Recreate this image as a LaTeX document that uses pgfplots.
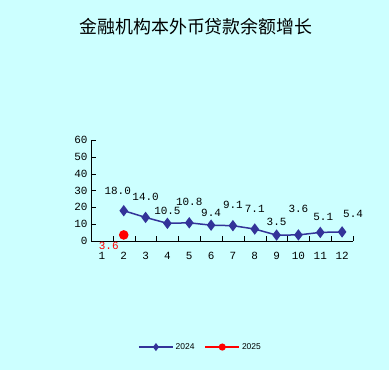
\documentclass[border=0pt]{standalone}
\usepackage{fontspec}
\usepackage{pgfplots}
\pgfplotsset{compat=1.18}
\newfontfamily\cjk{Noto Sans CJK SC}
\newfontfamily\mono{Liberation Mono}
\newfontfamily\lsans{Liberation Sans}
\definecolor{bg}{RGB}{204,255,255}
\definecolor{navy}{RGB}{51,51,153}
\begin{document}
\begin{tikzpicture}[x=1bp,y=1bp]
\fill[bg] (0,0) rectangle (389,370);
\useasboundingbox (0,0) rectangle (389,370);
\node[font={\cjk\fontsize{18}{18}\selectfont}] at (196,343) {金融机构本外币贷款余额增长};
\begin{axis}[
  at={(91bp,129bp)}, anchor=south west,
  scale only axis, width=262bp, height=101bp,
  xmin=0.5, xmax=12.5, ymin=0, ymax=60,
  axis lines=left, axis line style={-, black},
  xtick={1,...,12}, ytick={0,10,...,60},
  minor xtick={1.5,2.5,...,12.5},
  major x tick style={draw=none},
  minor x tick style={black},
  tick align=inside, major tick length=5bp, minor tick length=5bp,
  tick style={black},
  /pgf/number format/assume math mode=true,
  ticklabel style={font={\mono\fontsize{11}{11}\selectfont}},
  xticklabel style={yshift=-8bp},
  clip=false,
  legend style={at={(0.418,-1.05)}, anchor=center, draw=none, fill=none,
    font={\lsans\fontsize{8.5}{8.5}\selectfont}, legend columns=2,
    /tikz/every even column/.append style={column sep=8bp}},
  legend image code/.code={\draw[mark repeat=2,mark phase=2,#1,mark size=2.8bp] plot coordinates {(0bp,0bp) (17bp,0bp) (34bp,0bp)};},
]
\addplot[navy, line width=1.5bp, mark=diamond*, mark size=4.5bp, mark options={fill=navy, draw=navy}]
 coordinates {(2,18.0) (3,14.0) (4,10.5) (5,10.8) (6,9.4) (7,9.1) (8,7.1) (9,3.5) (10,3.6) (11,5.1) (12,5.4)};
\addlegendentry{2024}
\addplot[red, line width=1.5bp, mark=*, mark size=4bp, mark options={fill=red, draw=red}]
 coordinates {(2,3.6)};
\addlegendentry{2025}
\begin{scope}[every node/.style={font={\mono\fontsize{11}{11}\selectfont}, inner sep=0pt}]
\node[xshift=-6bp, yshift=20bp] at (axis cs:2,18.0) {18.0};
\node[yshift=21bp] at (axis cs:3,14.0) {14.0};
\node[yshift=12bp] at (axis cs:4,10.5) {10.5};
\node[yshift=21bp] at (axis cs:5,10.8) {10.8};
\node[yshift=12bp] at (axis cs:6,9.4) {9.4};
\node[yshift=21bp] at (axis cs:7,9.1) {9.1};
\node[yshift=20bp] at (axis cs:8,7.1) {7.1};
\node[yshift=13bp] at (axis cs:9,3.5) {3.5};
\node[yshift=26bp] at (axis cs:10,3.6) {3.6};
\node[xshift=3bp, yshift=15bp] at (axis cs:11,5.1) {5.1};
\node[xshift=11bp, yshift=18bp] at (axis cs:12,5.4) {5.4};
\node[red, xshift=-15bp, yshift=-11bp] at (axis cs:2,3.6) {3.6};
\end{scope}
\end{axis}
\end{tikzpicture}
\end{document}
